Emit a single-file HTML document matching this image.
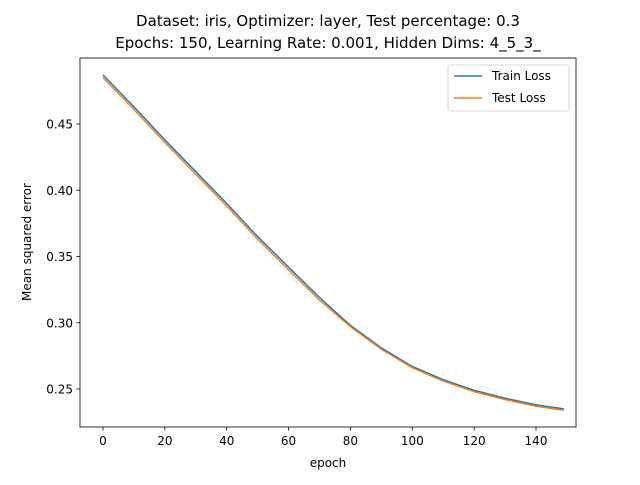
<!DOCTYPE html>
<html><head><meta charset="utf-8"><style>
body{margin:0;background:#fff}
svg text{font-family:"DejaVu Sans","Liberation Sans",sans-serif;fill:#000}
</style></head><body>
<svg id="c" width="640" height="480" xmlns="http://www.w3.org/2000/svg"></svg>
<script>
const epochs=[0,10,20,30,40,50,60,70,80,90,100,110,120,130,140,149];
const trainLoss=[0.487,0.463,0.438,0.414,0.390,0.365,0.342,0.319,0.298,0.281,0.267,0.257,0.249,0.243,0.238,0.235];
const testLoss=[0.485,0.461,0.436,0.412,0.388,0.363,0.340,0.317,0.297,0.280,0.266,0.256,0.248,0.242,0.237,0.234];
const xTicks=[0,20,40,60,80,100,120,140];
const yTicks=[0.25,0.30,0.35,0.40,0.45];
const svg=document.getElementById('c');
const NS='http://www.w3.org/2000/svg';
const L=80,R=576,T=58,B=427;
function sx(v){return 103+v*(433/140);}
function sy(v){return 389-(v-0.25)*(265/0.2);}
function mk(t,a,p){const e=document.createElementNS(NS,t);for(const k in a)e.setAttribute(k,a[k]);(p||svg).appendChild(e);return e;}
function txt(s,x,y,a,extra){const e=mk('text',Object.assign({x:x,y:y,'font-size':12,'text-anchor':a||'middle'},extra||{}));e.textContent=s;return e;}
let t1=txt('Dataset: iris, Optimizer: layer, Test percentage: 0.3',328,26,'middle',{'font-size':15});


let t2=txt('Epochs: 150, Learning Rate: 0.001, Hidden Dims: 4_5_3_',328,48,'middle',{'font-size':15});


xTicks.forEach(v=>{const x=sx(v);
const l=mk('line',{x1:x,x2:x,y1:B,y2:B+3.5,stroke:'#000','stroke-width':0.8});


const t=txt(String(v),x,B+18);

});
yTicks.forEach(v=>{const y=sy(v);
const l=mk('line',{x1:L-3.5,x2:L,y1:y,y2:y,stroke:'#000','stroke-width':0.8});


const t=txt(v.toFixed(2),L-7,y+4.5,'end');

});
let xl=txt('epoch',328,467,'middle');


let yl=txt('Mean squared error',31,242,'middle',{transform:'rotate(-90 31 242)'});


function line(vals,color,name){const p=mk('polyline',{points:epochs.map((e,i)=>sx(e)+','+sy(vals[i])).join(' '),fill:'none',stroke:color,'stroke-width':1.5,'stroke-linejoin':'round'});

}
line(trainLoss,'#1f77b4','train-loss-line');
line(testLoss,'#ff7f0e','test-loss-line');
const fr=mk('rect',{x:L,y:T,width:R-L,height:B-T,fill:'none',stroke:'#000','stroke-width':0.8});


const lg=mk('g',{});


mk('rect',{x:448,y:65,width:121,height:46,rx:2,fill:'#fff',stroke:'#ccc','stroke-width':0.8},lg);
mk('line',{x1:454,x2:482,y1:76,y2:76,stroke:'#1f77b4','stroke-width':1.5},lg);
mk('line',{x1:454,x2:482,y1:98,y2:98,stroke:'#ff7f0e','stroke-width':1.5},lg);
const a=mk('text',{x:492,y:80,'font-size':12},lg);a.textContent='Train Loss';


const b=mk('text',{x:492,y:102,'font-size':12},lg);b.textContent='Test Loss';


</script>
</body></html>
